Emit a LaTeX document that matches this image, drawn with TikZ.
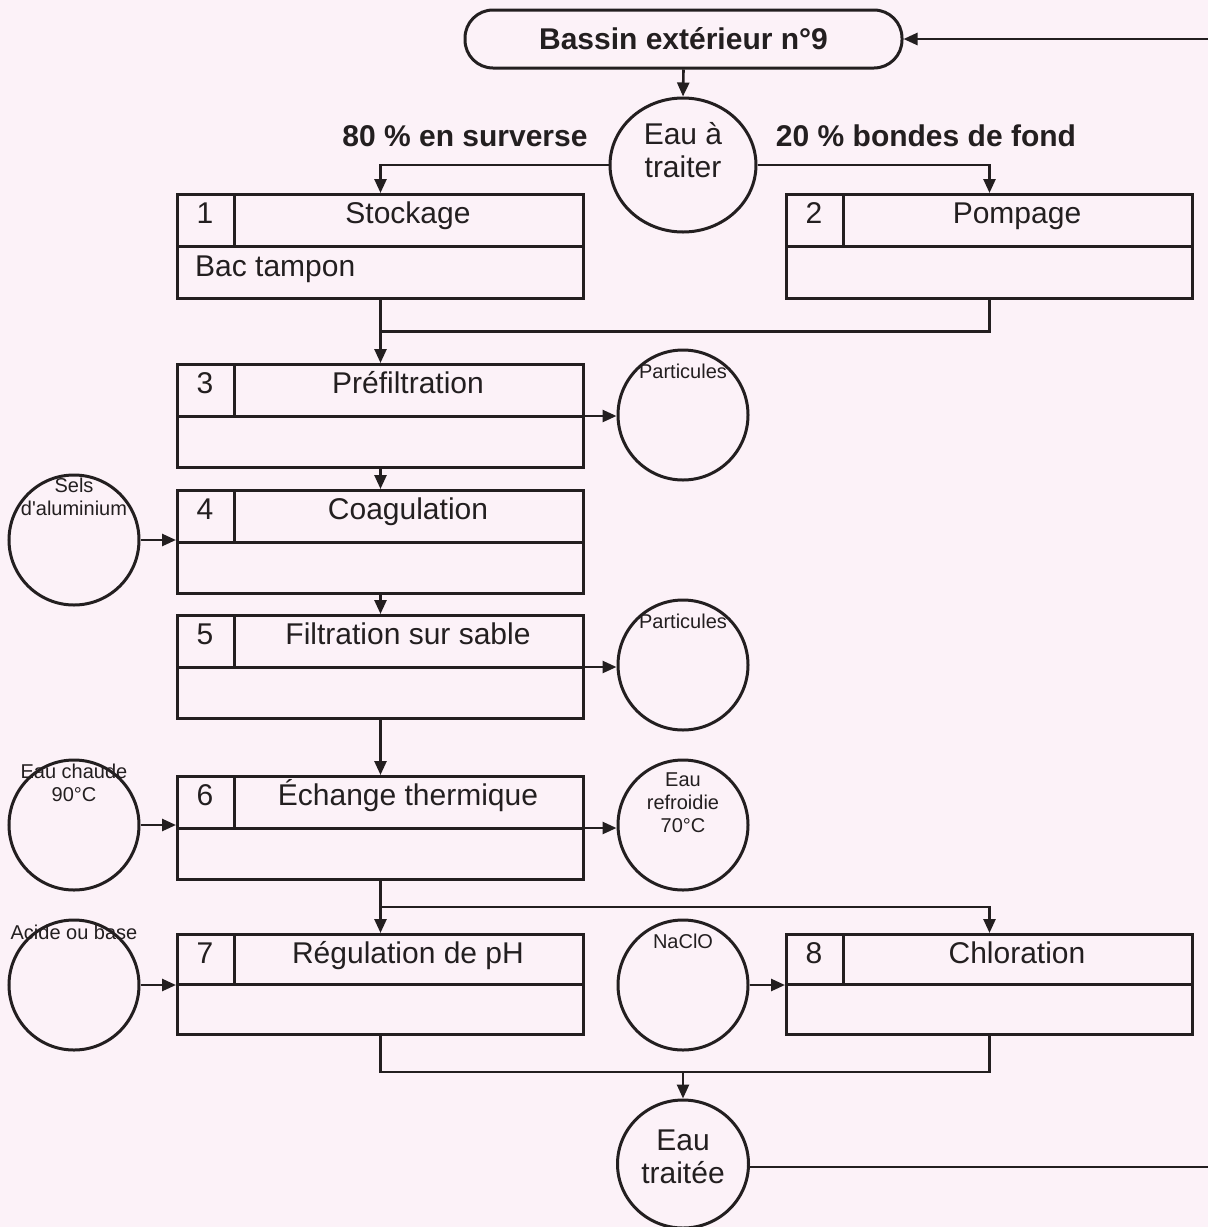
\documentclass[tikz,border=0pt]{standalone}
\usepackage{fontspec}
\setmainfont{Liberation Sans}
\usetikzlibrary{arrows.meta,shapes.geometric,calc}
\definecolor{ink}{RGB}{35,31,32}
\definecolor{paper}{RGB}{252,242,248}
\tikzset{
 ln/.style={line width=2.6pt, draw=ink},
 arr/.style={ln, -{Triangle[length=14pt,width=12pt]}},
 pbox/.style={draw=ink, line width=3pt, rectangle, minimum width=406pt, inner sep=0pt, anchor=north west},
 big/.style={font=\fontsize{30}{33}\selectfont, text=ink, inner sep=0pt},
 bigb/.style={font=\bfseries\fontsize{30}{33}\selectfont, text=ink, inner sep=0pt},
 small/.style={font=\fontsize{20}{23}\selectfont, text=ink, inner sep=0pt, align=center},
 rnd/.style={circle, draw=ink, line width=3pt, minimum size=130pt, inner sep=0pt},
 ell/.style={ellipse, draw=ink, line width=3pt, inner sep=0pt},
}
\newcommand\procbox[7]{%
 \node[pbox, minimum height=#4pt] (#1) at (#2,#3) {};
 \draw[ln, line width=3pt] (#1.west) -- (#1.east);
 \draw[ln, line width=3pt] ([xshift=58pt]#1.north west) -- ([xshift=58pt]#1.west);
 \node[big, anchor=base] (#1n) at ($(#1.north west)+(29,30)$) {#5};
 \node[big, anchor=base] (#1t) at ($(#1.north west)+(232,30)$) {#6};
 \node[big, anchor=base west] (#1s) at ($(#1.west)+(19,30)$) {#7};
}
\begin{document}
\begin{tikzpicture}[x=1pt,y=-1pt]
\fill[paper] (0,0) rectangle (1208,1227);
\useasboundingbox (0,0) rectangle (1208,1227);

\node[draw=ink, line width=3pt, rounded corners=28pt, minimum width=437pt, minimum height=58pt, bigb] (bassin) at (683.5,39) {Bassin extérieur n°9};

\node[ell, minimum width=146pt, minimum height=134pt] (eat) at (683,165) {};
\node[big, align=center] (eattxt) at (683,150) {Eau à\\traiter};

\node[bigb, anchor=base] (l80) at (465,146) {80 \% en surverse};
\node[bigb, anchor=base] (l20) at (926,146) {20 \% bondes de fond};

\procbox{b1}{176}{193}{104}{1}{Stockage}{Bac tampon}
\procbox{b2}{785}{193}{104}{2}{Pompage}{}
\procbox{b3}{176}{363}{103}{3}{Préfiltration}{}
\procbox{b4}{176}{489}{103}{4}{Coagulation}{}
\procbox{b5}{176}{614}{103}{5}{Filtration sur sable}{}
\procbox{b6}{176}{775}{103}{6}{Échange thermique}{}
\procbox{b7}{176}{933}{100}{7}{Régulation de pH}{}
\procbox{b8}{785}{933}{100}{8}{Chloration}{}

\node[rnd] (sels) at (74,540) {};
\node[small] (selst) at (74,497) {Sels\\d\textquotesingle aluminium};
\node[rnd] (part1) at (683,415) {};
\node[small] (part1t) at (683,371) {Particules};
\node[rnd] (part2) at (683,665) {};
\node[small] (part2t) at (683,621) {Particules};
\node[rnd] (chaude) at (74,825) {};
\node[small] (chaudet) at (74,783) {Eau chaude\\90°C};
\node[rnd] (froid) at (683,825) {};
\node[small] (froidt) at (683,803) {Eau\\refroidie\\70°C};
\node[rnd] (acide) at (74,985) {};
\node[small] (acidet) at (74,932) {Acide ou base};
\node[rnd] (naclo) at (683,985) {};
\node[small] (naclot) at (683,941) {NaClO};
\node[ell, minimum width=131pt, minimum height=128pt] (eft) at (683,1164) {};
\node[big, align=center] (efttxt) at (683,1157) {Eau\\traitée};

\draw[arr] (bassin.south) -- (eat.north);
\draw[arr] (eat.west) -| (b1.north);
\draw[arr] (eat.east) -| (b2.north);
\draw[arr] (b1.south) -- (b3.north);
\coordinate (j1) at ($(b1.south)!0.5!(b3.north)$);
\draw[ln] (b2.south) |- (j1);
\draw[arr] (b3.south) -- (b4.north);
\draw[arr] (b4.south) -- (b5.north);
\draw[arr] (b5.south) -- (b6.north);
\draw[arr] (b6.south) -- (b7.north);
\coordinate (j6) at ($(b6.south)!0.5!(b7.north)$);
\draw[arr] (j6) -| (b8.north);
\draw[arr] (b3.east) -- (b3.east -| part1.west);
\draw[arr] (b5.east) -- (b5.east -| part2.west);
\draw[arr] (b6.east) -- (b6.east -| froid.west);
\draw[arr] (sels.east) -- (sels.east -| b4.west);
\draw[arr] (chaude.east) -- (chaude.east -| b6.west);
\draw[arr] (acide.east) -- (acide.east -| b7.west);
\draw[arr] (naclo.east) -- (naclo.east -| b8.west);
\coordinate (j7) at (683,1072);
\draw[ln] (b7.south) |- (j7) -| (b8.south);
\draw[arr] (j7) -- (eft.north);
\coordinate (fb1) at (1216,1167);
\coordinate (fb2) at (1216,39);
\draw[arr] (eft.east |- fb1) -- (fb1) -- (fb2) -- (bassin.east);
\end{tikzpicture}
\end{document}
